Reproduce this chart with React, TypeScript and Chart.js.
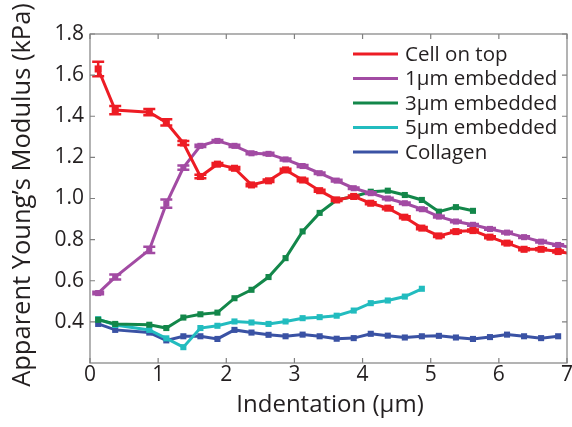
import React, { useEffect, useRef } from "react";
import { Chart, registerables } from "chart.js";

Chart.register(...registerables);

// Indentation depths (µm)
const depth = [0.12, 0.37, 0.87, 1.12, 1.37, 1.62, 1.87, 2.12, 2.37, 2.62, 2.87, 3.12, 3.37, 3.62, 3.87, 4.12, 4.37, 4.62, 4.87, 5.12, 5.37, 5.62, 5.87, 6.12, 6.37, 6.62, 6.87, 7.12];

// Apparent Young's modulus (kPa)
const cellOnTop = [1.63, 1.43, 1.42, 1.37, 1.27, 1.107, 1.167, 1.147, 1.066, 1.086, 1.139, 1.09, 1.038, 0.993, 1.01, 0.977, 0.953, 0.909, 0.856, 0.818, 0.839, 0.844, 0.812, 0.783, 0.753, 0.753, 0.742, 0.728];
const cellOnTopErr = [0.035, 0.02, 0.015, 0.015, 0.01, 0.008, 0.006, 0.006, 0.006, 0.006, 0.006, 0.006, 0.005, 0.005, 0.005, 0.005, 0.005, 0.005, 0.005, 0.005, 0.005, 0.005, 0.005, 0.005, 0.005, 0.005, 0.005, 0.005];
const embedded1 = [0.54, 0.618, 0.75, 0.975, 1.15, 1.256, 1.28, 1.256, 1.22, 1.217, 1.19, 1.158, 1.123, 1.087, 1.05, 1.026, 1.0, 0.977, 0.948, 0.912, 0.888, 0.872, 0.852, 0.834, 0.812, 0.79, 0.774, 0.758];
const embedded1Err = [0.006, 0.012, 0.015, 0.02, 0.01, 0.006, 0.005, 0.005, 0.005, 0.005, 0.005, 0.005, 0.004, 0.004, 0.004, 0.004, 0.004, 0.004, 0.004, 0.004, 0.004, 0.004, 0.004, 0.004, 0.004, 0.004, 0.004, 0.004];
const embedded3 = [0.41, 0.39, 0.386, 0.37, 0.421, 0.437, 0.445, 0.515, 0.556, 0.618, 0.71, 0.84, 0.93, 0.993, 1.01, 1.033, 1.038, 1.017, 0.993, 0.936, 0.958, 0.94];
const embedded5 = [0.413, 0.385, 0.361, 0.32, 0.277, 0.37, 0.381, 0.402, 0.397, 0.39, 0.402, 0.418, 0.423, 0.43, 0.455, 0.491, 0.504, 0.523, 0.561];
const collagen = [0.39, 0.361, 0.348, 0.31, 0.33, 0.33, 0.317, 0.361, 0.348, 0.337, 0.33, 0.338, 0.33, 0.318, 0.321, 0.342, 0.333, 0.324, 0.33, 0.332, 0.324, 0.317, 0.326, 0.338, 0.33, 0.321, 0.33];

const seriesNames = ["Cell on top", "1\u00b5m embedded", "3\u00b5m embedded", "5\u00b5m embedded", "Collagen"];
const seriesColors = ["#ed1c24", "#a24ba3", "#13874a", "#22bcbf", "#3a52a4"];

const xTicks = [0, 1, 2, 3, 4, 5, 6, 7];
const yTicks = [0.4, 0.6, 0.8, 1.0, 1.2, 1.4, 1.6, 1.8];

const FONT = "'Open Sans', 'Noto Sans', sans-serif";
const INK = "#231f20";
const AXIS = "#808080";

const toPoints = (ys: number[]) => ys.map((y, i) => ({ x: depth[i], y }));

const errorBars = {
  id: "errorBars",
  afterDatasetsDraw(chart: any) {
    const { ctx, scales, chartArea } = chart;
    const errs = [cellOnTopErr, embedded1Err];
    const vals = [cellOnTop, embedded1];
    ctx.save();
    ctx.beginPath();
    ctx.rect(chartArea.left, chartArea.top, chartArea.right - chartArea.left, chartArea.bottom - chartArea.top);
    ctx.clip();
    [1, 0].forEach((s) => {
      ctx.strokeStyle = seriesColors[s];
      ctx.lineWidth = 2.5;
      vals[s].forEach((v, i) => {
        const e = errs[s][i];
        const x = scales.x.getPixelForValue(depth[i]);
        const y1 = scales.y.getPixelForValue(v + e);
        const y2 = scales.y.getPixelForValue(v - e);
        ctx.beginPath();
        ctx.moveTo(x, y1);
        ctx.lineTo(x, y2);
        ctx.moveTo(x - 6, y1);
        ctx.lineTo(x + 6, y1);
        ctx.moveTo(x - 6, y2);
        ctx.lineTo(x + 6, y2);
        ctx.stroke();
      });
    });
    ctx.restore();
  },
};

const frame = {
  id: "frame",
  afterDraw(chart: any) {
    const { ctx, scales, chartArea } = chart;
    const { left, right, top, bottom } = chartArea;
    ctx.save();
    ctx.strokeStyle = AXIS;
    ctx.lineWidth = 1.2;
    ctx.strokeRect(left, top, right - left, bottom - top);
    const tl = 5;
    ctx.beginPath();
    xTicks.forEach((t) => {
      const x = scales.x.getPixelForValue(t);
      ctx.moveTo(x, bottom);
      ctx.lineTo(x, bottom - tl);
      ctx.moveTo(x, top);
      ctx.lineTo(x, top + tl);
    });
    yTicks.forEach((t) => {
      const y = scales.y.getPixelForValue(t);
      ctx.moveTo(left, y);
      ctx.lineTo(left + tl, y);
      ctx.moveTo(right, y);
      ctx.lineTo(right - tl, y);
    });
    ctx.stroke();

    ctx.fillStyle = INK;
    ctx.font = `21px ${FONT}`;
    ctx.textBaseline = "middle";
    ctx.textAlign = "right";
    yTicks.forEach((t) => {
      ctx.fillText(t.toFixed(1), left - 6, scales.y.getPixelForValue(t));
    });
    ctx.textAlign = "center";
    ctx.textBaseline = "top";
    xTicks.forEach((t) => {
      ctx.fillText(String(t), scales.x.getPixelForValue(t), bottom + 2);
    });

    ctx.font = `24px ${FONT}`;
    ctx.textBaseline = "top";
    ctx.fillText("Indentation (\u00b5m)", 330, 393);
    ctx.save();
    ctx.translate(10, 195);
    ctx.rotate(-Math.PI / 2);
    ctx.font = `25.5px ${FONT}`;
    ctx.textBaseline = "top";
    ctx.fillText("Apparent Young\u2019s Modulus (kPa)", 0, 0);
    ctx.restore();

    // legend
    ctx.font = `20.5px ${FONT}`;
    ctx.textAlign = "left";
    ctx.textBaseline = "middle";
    seriesNames.forEach((name, i) => {
      const y = 54 + i * 24.5;
      ctx.strokeStyle = seriesColors[i];
      ctx.lineWidth = 3;
      ctx.beginPath();
      ctx.moveTo(353, y);
      ctx.lineTo(398, y);
      ctx.stroke();
      ctx.fillStyle = INK;
      ctx.fillText(name, 405, y + 1);
    });
    ctx.restore();
  },
};

export default function App() {
  const ref = useRef<HTMLCanvasElement | null>(null);
  useEffect(() => {
    if (!ref.current) return;
    const all = [cellOnTop, embedded1, embedded3, embedded5, collagen];
    const chart = new Chart(ref.current, {
      type: "scatter",
      data: {
        datasets: all.map((ys, i) => ({
          label: seriesNames[i],
          data: toPoints(ys),
          showLine: true,
          borderColor: seriesColors[i],
          backgroundColor: seriesColors[i],
          borderWidth: 3,
          pointStyle: "rect",
          pointRadius: i === 0 ? 5 : 4.3,
          pointBorderWidth: 0,
          tension: 0,
        })),
      },
      options: {
        animation: false,
        responsive: false,
        maintainAspectRatio: false,
        layout: { padding: { left: 90, right: 3, top: 34, bottom: 64 } },
        plugins: { legend: { display: false }, tooltip: { enabled: false } },
        scales: {
          x: { type: "linear", min: 0, max: 7, display: false },
          y: { type: "linear", min: 0.2, max: 1.8, display: false },
        },
      },
      plugins: [errorBars, frame],
    });
    return () => chart.destroy();
  }, []);
  return (
    <div style={{ position: "fixed", left: 0, top: 0, width: 572, height: 427, background: "#fff" }}>
      <canvas ref={ref} width={572} height={427} style={{ width: 572, height: 427 }} />
    </div>
  );
}
